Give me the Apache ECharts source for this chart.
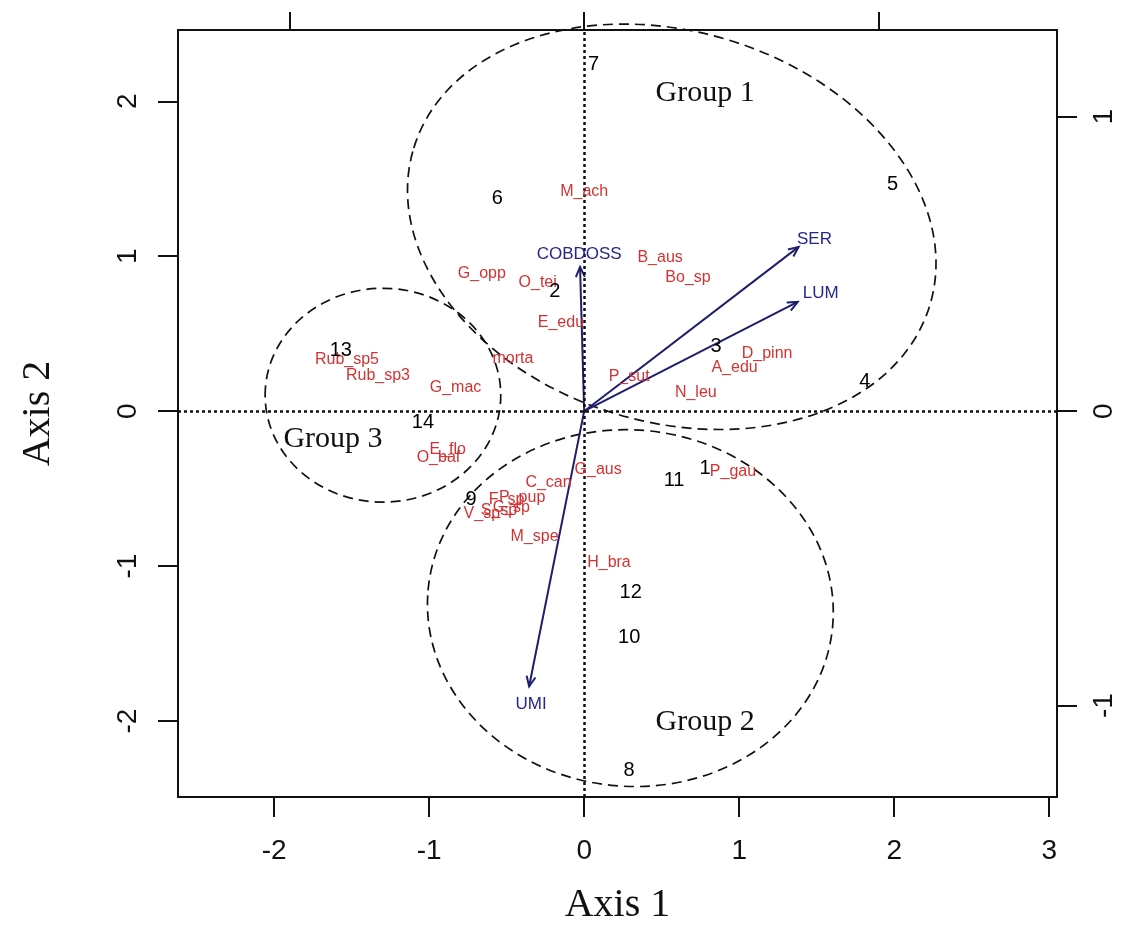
<!DOCTYPE html>
<html><head><meta charset="utf-8">
<script src="https://cdn.jsdelivr.net/npm/echarts@6/dist/echarts.min.js"></script>
<style>html,body{margin:0;padding:0;background:#fff;} #c{width:1134px;height:941px;}</style>
</head><body><div id="c"></div>
<script>
// tick values
const xTicks = [-2, -1, 0, 1, 2, 3];
const yTicks = [-2, -1, 0, 1, 2];
const x2Ticks = [-1, 0, 1];
const y2Ticks = [-1, 0, 1];

// sites (primary scale)
const siteNames = ['1','2','3','4','5','6','7','8','9','10','11','12','13','14'];
const siteX = [0.78, -0.19, 0.85, 1.81, 1.99, -0.56, 0.06, 0.29, -0.73, 0.29, 0.58, 0.30, -1.57, -1.04];
const siteY = [-0.37, 0.77, 0.42, 0.19, 1.46, 1.37, 2.24, -2.32, -0.57, -1.46, -0.45, -1.17, 0.39, -0.07];

// species (primary scale)
const speciesNames = ['M_ach','B_aus','Bo_sp','G_opp','O_tei','E_edu','morta','G_mac','Rub_sp5','Rub_sp3',
  'P_sut','D_pinn','A_edu','N_leu','E_flo','O_baf','G_aus','C_can','P_pup','F_sp','V_sp','S_sp','C_sp',
  'M_spe','H_bra','P_gau'];
const speciesX = [0.0, 0.49, 0.67, -0.66, -0.30, -0.15, -0.46, -0.83, -1.53, -1.33,
  0.29, 1.18, 0.97, 0.72, -0.88, -0.94, 0.09, -0.23, -0.40, -0.50, -0.66, -0.55, -0.47,
  -0.32, 0.16, 0.96];
const speciesY = [1.42, 0.99, 0.86, 0.89, 0.83, 0.57, 0.34, 0.15, 0.33, 0.23,
  0.22, 0.37, 0.28, 0.12, -0.25, -0.30, -0.38, -0.46, -0.555, -0.57, -0.66, -0.64, -0.62,
  -0.81, -0.98, -0.39];

// environmental variables (secondary scale)
const varNames = ['SER', 'LUM', 'COBDOSS', 'UMI'];
const varX = [0.728, 0.725, -0.014, -0.187];
const varY = [0.558, 0.371, 0.490, -0.935];
const varLabelX = [0.782, 0.803, -0.017, -0.18];
const varLabelY = [0.585, 0.401, 0.532, -0.995];

// groups (primary scale)
const groupNames = ['Group 1', 'Group 2', 'Group 3'];
const groupLabelX = [0.78, 0.78, -1.62];
const groupLabelY = [2.05, -2.01, -0.18];
const ellipseCX = [0.565, 0.298, -1.298];
const ellipseCY = [1.19, -1.271, 0.103];
const ellipseA = [1.74, 1.31, 0.76];
const ellipseB = [1.26, 1.15, 0.69];
const ellipseAngle = [-17, -5, 0];

const xMin = -2.62, xMax = 3.05, yMin = -2.49, yMax = 2.46, ratio = 1.9;

const chart = echarts.init(document.getElementById('c'), null, {renderer: 'canvas'});

function textSeries(names, xs, ys, xi, yi, style) {
  return {
    type: 'custom', coordinateSystem: 'cartesian2d', xAxisIndex: xi, yAxisIndex: yi, silent: true, z: 5,
    data: names.map((n, i) => [xs[i], ys[i]]),
    renderItem: function (params, api) {
      const p = api.coord([api.value(0), api.value(1)]);
      return {type: 'text', x: p[0], y: p[1],
        style: Object.assign({text: names[params.dataIndex], align: 'center', verticalAlign: 'middle'}, style)};
    }
  };
}

const axisLineStyle = {color: '#111', width: 2};

const option = {
  animation: false,
  backgroundColor: '#fff',
  grid: {left: 178, right: 77, top: 30, bottom: 144, outerBoundsMode: 'none', containLabel: false},
  xAxis: [
    {type: 'value', position: 'bottom', min: xMin, max: xMax,
      axisLine: {show: true, onZero: false, lineStyle: axisLineStyle},
      axisTick: {show: true, customValues: xTicks, length: 20, lineStyle: axisLineStyle},
      axisLabel: {customValues: xTicks, fontSize: 28, color: '#111', margin: 40, fontFamily: 'Liberation Sans'},
      splitLine: {show: false},
      name: 'Axis 1', nameLocation: 'middle', nameGap: 88,
      nameTextStyle: {fontFamily: 'Liberation Serif', fontSize: 40, color: '#111'}},
    {type: 'value', position: 'top', min: xMin / ratio, max: xMax / ratio,
      axisLine: {show: true, onZero: false, lineStyle: axisLineStyle},
      axisTick: {show: true, customValues: x2Ticks, length: 18, lineStyle: axisLineStyle},
      axisLabel: {show: false},
      splitLine: {show: false}}
  ],
  yAxis: [
    {type: 'value', position: 'left', min: yMin, max: yMax,
      axisLine: {show: true, onZero: false, lineStyle: axisLineStyle},
      axisTick: {show: true, customValues: yTicks, length: 20, lineStyle: axisLineStyle},
      axisLabel: {customValues: yTicks, fontSize: 28, color: '#111', margin: 36, rotate: 90, fontFamily: 'Liberation Sans'},
      splitLine: {show: false},
      name: 'Axis 2', nameLocation: 'middle', nameGap: 120, nameRotate: 90,
      nameTextStyle: {fontFamily: 'Liberation Serif', fontSize: 40, color: '#111'}},
    {type: 'value', position: 'right', min: yMin / ratio, max: yMax / ratio,
      axisLine: {show: true, onZero: false, lineStyle: axisLineStyle},
      axisTick: {show: true, customValues: y2Ticks, length: 20, lineStyle: axisLineStyle},
      axisLabel: {customValues: y2Ticks, fontSize: 28, color: '#111', margin: 33, rotate: 90, fontFamily: 'Liberation Sans'},
      splitLine: {show: false}}
  ],
  series: [
    {type: 'line', xAxisIndex: 0, yAxisIndex: 0, data: [], silent: true,
      markLine: {silent: true, symbol: ['none', 'none'], label: {show: false},
        lineStyle: {color: '#111', width: 2.5, type: [3, 3]},
        data: [{xAxis: 0}, {yAxis: 0}]}},
    {type: 'custom', coordinateSystem: 'cartesian2d', xAxisIndex: 0, yAxisIndex: 0, silent: true, z: 3,
      data: groupNames.map((n, i) => [ellipseCX[i], ellipseCY[i]]),
      renderItem: function (params, api) {
        const i = params.dataIndex;
        const c = api.coord([ellipseCX[i], ellipseCY[i]]);
        const s = api.size([ellipseA[i], ellipseB[i]]);
        return {type: 'ellipse', x: c[0], y: c[1], rotation: ellipseAngle[i] * Math.PI / 180,
          shape: {cx: 0, cy: 0, rx: s[0], ry: s[1]},
          style: {fill: 'none', stroke: '#111', lineWidth: 1.7, lineDash: [10, 6]}};
      }},
    {type: 'custom', coordinateSystem: 'cartesian2d', xAxisIndex: 1, yAxisIndex: 1, silent: true, z: 4,
      data: varNames.map((n, i) => [varX[i], varY[i]]),
      renderItem: function (params, api) {
        const i = params.dataIndex;
        const o = api.coord([0, 0]);
        const t = api.coord([varX[i], varY[i]]);
        const ang = Math.atan2(t[1] - o[1], t[0] - o[0]);
        const h = 11, sp = 0.42;
        const p1 = [t[0] - h * Math.cos(ang - sp), t[1] - h * Math.sin(ang - sp)];
        const p2 = [t[0] - h * Math.cos(ang + sp), t[1] - h * Math.sin(ang + sp)];
        const st = {stroke: '#1e1e6e', lineWidth: 2, fill: 'none'};
        return {type: 'group', children: [
          {type: 'line', shape: {x1: o[0], y1: o[1], x2: t[0], y2: t[1]}, style: st},
          {type: 'polyline', shape: {points: [p1, t, p2]}, style: st}
        ]};
      }},
    textSeries(speciesNames, speciesX, speciesY, 0, 0, {fill: '#d43232', font: '16px "Liberation Sans"'}),
    textSeries(siteNames, siteX, siteY, 0, 0, {fill: '#000', font: '20px "Liberation Sans"'}),
    textSeries(varNames, varLabelX, varLabelY, 1, 1, {fill: '#26268e', font: '17px "Liberation Sans"'}),
    textSeries(groupNames, groupLabelX, groupLabelY, 0, 0, {fill: '#111', font: '30px "Liberation Serif"'})
  ]
};
chart.setOption(option);
</script>
</body></html>
